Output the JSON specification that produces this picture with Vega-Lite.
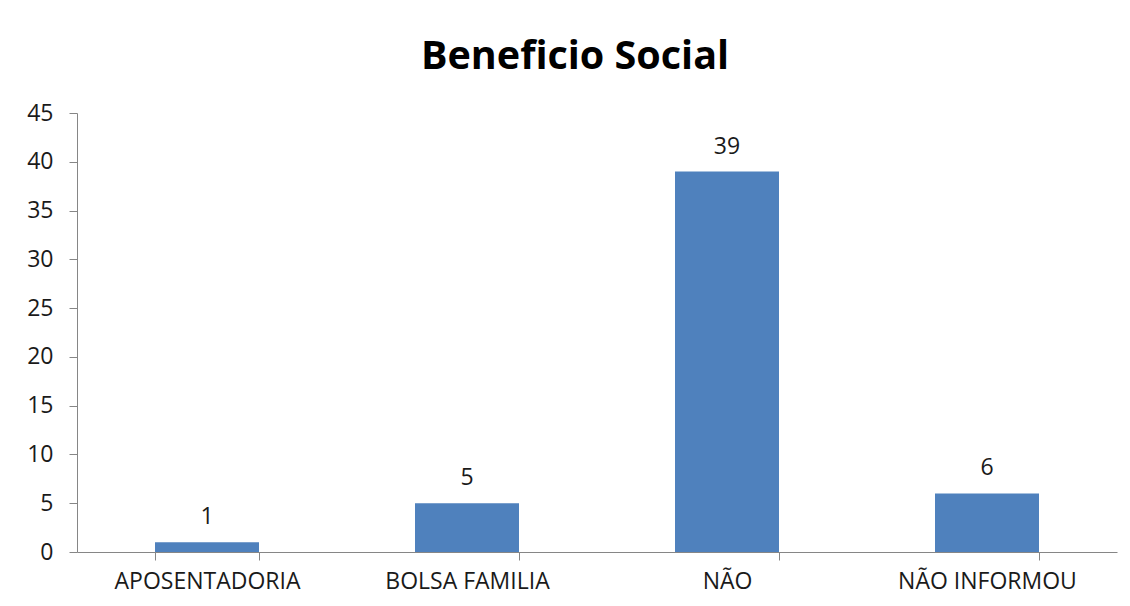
{
  "$schema": "https://vega.github.io/schema/vega-lite/v6.json",
  "width": 1040,
  "height": 439,
  "autosize": {"type": "none"},
  "padding": {"left": 77, "top": 113, "right": 13, "bottom": 54},
  "background": "white",
  "title": {
    "text": "Beneficio Social",
    "font": "Open Sans",
    "fontSize": 39.5,
    "fontWeight": "bold",
    "color": "#000000",
    "anchor": "middle",
    "baseline": "alphabetic",
    "offset": -6,
    "dx": -22
  },
  "data": {
    "values": [
      {"categoria": "APOSENTADORIA", "valor": 1},
      {"categoria": "BOLSA FAMILIA", "valor": 5},
      {"categoria": "NÃO", "valor": 39},
      {"categoria": "NÃO INFORMOU", "valor": 6}
    ]
  },
  "encoding": {
    "x": {
      "field": "categoria",
      "type": "nominal",
      "sort": null,
      "scale": {"paddingInner": 0.6, "paddingOuter": 0.3},
      "axis": {
        "title": null,
        "labelAngle": 0,
        "labelLimit": 400,
        "tickBand": "extent",
        "tickSize": 8,
        "tickColor": "#868686",
        "domainColor": "#868686",
        "labelFont": "Open Sans",
        "labelFontSize": 23,
        "labelColor": "#1a1a1a",
        "labelPadding": 10,
        "labelBaseline": "top"
      }
    },
    "y": {
      "field": "valor",
      "type": "quantitative",
      "scale": {"domain": [0, 45], "nice": false},
      "axis": {
        "title": null,
        "values": [0, 5, 10, 15, 20, 25, 30, 35, 40, 45],
        "grid": false,
        "tickSize": 8,
        "tickColor": "#868686",
        "domainColor": "#868686",
        "labelFont": "Open Sans",
        "labelFontSize": 23,
        "labelColor": "#1a1a1a",
        "labelPadding": 16
      }
    }
  },
  "layer": [
    {"mark": {"type": "bar", "color": "#4F81BD"}},
    {
      "mark": {
        "type": "text",
        "baseline": "alphabetic",
        "dy": -18,
        "font": "Open Sans",
        "fontSize": 23,
        "color": "#1a1a1a"
      },
      "encoding": {"text": {"field": "valor", "type": "quantitative"}}
    }
  ],
  "config": {"view": {"stroke": null}}
}
